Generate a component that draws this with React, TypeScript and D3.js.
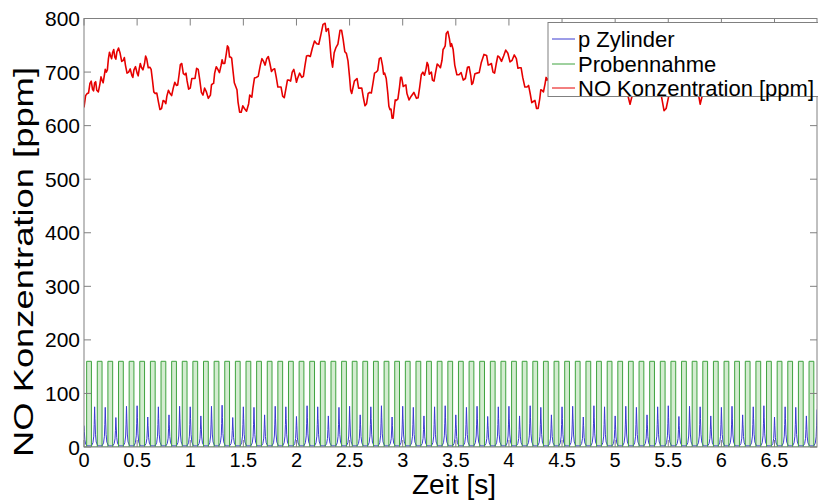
import React from "react";
import * as d3 from "d3";

const W = 818;
const H = 501;

// x ticks (s) and y ticks (ppm)
const X_TICKS = [0, 0.5, 1, 1.5, 2, 2.5, 3, 3.5, 4, 4.5, 5, 5.5, 6, 6.5];
const X_TICK_LABELS = ["0", "0.5", "1", "1.5", "2", "2.5", "3", "3.5", "4", "4.5", "5", "5.5", "6", "6.5"];
const Y_TICKS = [0, 100, 200, 300, 400, 500, 600, 700, 800];
const Y_TICK_LABELS = ["0", "100", "200", "300", "400", "500", "600", "700", "800"];

// engine cycles (s)
const CYCLES = [
  0, 0.1, 0.2, 0.3, 0.4, 0.5, 0.6, 0.7, 0.8, 0.9,
  1.0, 1.1, 1.2, 1.3, 1.4, 1.5, 1.6, 1.7, 1.8, 1.9,
  2.0, 2.1, 2.2, 2.3, 2.4, 2.5, 2.6, 2.7, 2.8, 2.9,
  3.0, 3.1, 3.2, 3.3, 3.4, 3.5, 3.6, 3.7, 3.8, 3.9,
  4.0, 4.1, 4.2, 4.3, 4.4, 4.5, 4.6, 4.7, 4.8, 4.9,
  5.0, 5.1, 5.2, 5.3, 5.4, 5.5, 5.6, 5.7, 5.8, 5.9,
  6.0, 6.1, 6.2, 6.3, 6.4, 6.5, 6.6, 6.7, 6.8, 6.9,
];

// p Zylinder peak per cycle
const P_PEAKS = [
  40, 75, 74, 55, 76, 77, 56, 75, 60, 76,
  75, 58, 76, 78, 55, 75, 74, 60, 76, 75,
  57, 77, 75, 58, 74, 76, 60, 75, 77, 56,
  76, 74, 58, 75, 77, 60, 74, 76, 57, 75,
  76, 58, 77, 74, 60, 75, 76, 56, 77, 75,
  58, 76, 74, 60, 75, 77, 57, 76, 75, 58,
  74, 76, 60, 75, 77, 56, 75, 74, 58, 70,
];
const P_BASE = 2;
// pulse shape: [time offset (s), fraction of peak]
const P_SHAPE: [number, number][] = [
  [-0.03, 0], [-0.016, 0.08], [-0.008, 0.25], [-0.004, 0.55], [0, 1],
  [0.003, 0.7], [0.008, 0.3], [0.015, 0.1], [0.03, 0],
];

// Probennahme (sampling valve) square wave
const VALVE_HIGH = 160;
const VALVE_OPEN = 0.025; // offset within cycle
const VALVE_CLOSE = 0.07;

// NO Konzentration [ppm]: [time s, ppm]
const NO_DATA: [number, number][] = [
  [0.00, 634], [0.015, 656], [0.03, 660], [0.043, 661], [0.056, 679], [0.068, 683], [0.08, 668], [0.09, 665],
  [0.10, 680], [0.11, 682], [0.12, 666], [0.135, 663], [0.15, 678], [0.16, 691], [0.17, 685], [0.18, 680],
  [0.19, 692], [0.20, 705], [0.21, 700], [0.22, 704], [0.23, 725], [0.24, 737], [0.25, 730], [0.26, 725],
  [0.27, 737], [0.28, 742], [0.29, 728], [0.30, 724], [0.31, 738], [0.325, 745], [0.34, 735], [0.355, 720],
  [0.37, 722], [0.38, 727], [0.39, 713], [0.405, 698], [0.42, 700], [0.435, 706], [0.45, 694], [0.46, 690],
  [0.47, 704], [0.485, 710], [0.50, 698], [0.51, 693], [0.52, 706], [0.53, 716], [0.54, 709], [0.555, 704],
  [0.57, 716], [0.58, 730], [0.59, 725], [0.605, 708], [0.62, 709], [0.632, 705], [0.645, 684], [0.657, 663],
  [0.67, 660], [0.685, 661], [0.70, 645], [0.715, 630], [0.73, 632], [0.745, 647], [0.76, 645], [0.77, 641],
  [0.78, 655], [0.795, 666], [0.81, 660], [0.825, 656], [0.84, 670], [0.855, 681], [0.87, 675], [0.882, 676],
  [0.895, 695], [0.907, 714], [0.92, 716], [0.935, 697], [0.95, 695], [0.96, 698], [0.97, 684], [0.985, 668],
  [1.00, 670], [1.015, 688], [1.03, 688], [1.045, 688], [1.06, 707], [1.075, 705], [1.09, 685], [1.105, 662],
  [1.12, 657], [1.135, 670], [1.15, 664], [1.17, 651], [1.19, 657], [1.20, 676], [1.21, 678], [1.22, 679],
  [1.23, 698], [1.245, 710], [1.26, 705], [1.275, 699], [1.29, 712], [1.30, 723], [1.31, 716], [1.325, 716],
  [1.34, 735], [1.35, 749], [1.36, 746], [1.37, 728], [1.38, 728], [1.39, 726], [1.40, 707], [1.415, 680],
  [1.43, 672], [1.44, 667], [1.45, 644], [1.465, 625], [1.48, 625], [1.495, 637], [1.51, 632], [1.53, 627],
  [1.55, 641], [1.56, 657], [1.57, 655], [1.58, 653], [1.59, 670], [1.605, 689], [1.62, 690], [1.64, 692],
  [1.66, 713], [1.675, 725], [1.69, 720], [1.705, 713], [1.72, 725], [1.735, 729], [1.75, 716], [1.765, 701],
  [1.78, 705], [1.795, 706], [1.81, 690], [1.825, 672], [1.84, 672], [1.855, 672], [1.87, 655], [1.885, 652],
  [1.90, 668], [1.915, 685], [1.93, 685], [1.945, 683], [1.96, 700], [1.975, 705], [1.99, 692], [2.00, 681],
  [2.01, 688], [2.03, 698], [2.05, 690], [2.065, 692], [2.08, 712], [2.095, 730], [2.11, 731], [2.13, 729],
  [2.15, 745], [2.17, 758], [2.19, 753], [2.21, 752], [2.23, 770], [2.25, 789], [2.27, 791], [2.28, 776],
  [2.29, 780], [2.30, 781], [2.31, 765], [2.325, 728], [2.34, 709], [2.355, 736], [2.37, 745], [2.39, 752],
  [2.41, 778], [2.425, 778], [2.44, 760], [2.455, 738], [2.47, 735], [2.485, 721], [2.50, 690], [2.51, 666],
  [2.52, 660], [2.545, 683], [2.57, 688], [2.585, 670], [2.60, 670], [2.615, 670], [2.63, 652], [2.645, 637],
  [2.66, 641], [2.675, 660], [2.69, 662], [2.705, 661], [2.72, 679], [2.735, 698], [2.75, 700], [2.765, 703],
  [2.78, 725], [2.795, 727], [2.81, 712], [2.82, 696], [2.83, 698], [2.845, 688], [2.86, 660], [2.87, 636],
  [2.88, 630], [2.89, 631], [2.90, 614], [2.91, 614], [2.92, 632], [2.93, 648], [2.94, 647], [2.955, 650],
  [2.97, 672], [2.98, 690], [2.99, 690], [3.005, 673], [3.02, 675], [3.03, 676], [3.04, 660], [3.06, 648],
  [3.08, 655], [3.105, 662], [3.13, 651], [3.145, 652], [3.16, 672], [3.175, 695], [3.19, 700], [3.205, 694],
  [3.22, 706], [3.23, 718], [3.24, 713], [3.25, 696], [3.26, 698], [3.27, 700], [3.28, 685], [3.295, 683],
  [3.31, 700], [3.325, 715], [3.34, 712], [3.355, 708], [3.37, 722], [3.38, 742], [3.39, 745], [3.40, 749],
  [3.41, 772], [3.425, 776], [3.44, 762], [3.45, 748], [3.46, 753], [3.475, 742], [3.49, 713], [3.51, 695],
  [3.53, 695], [3.55, 699], [3.57, 685], [3.59, 688], [3.61, 709], [3.625, 710], [3.64, 694], [3.65, 677],
  [3.66, 679], [3.68, 697], [3.70, 698], [3.72, 699], [3.74, 718], [3.765, 733], [3.79, 731], [3.805, 713],
  [3.82, 714], [3.835, 716], [3.85, 700], [3.865, 698], [3.88, 715], [3.895, 730], [3.91, 728], [3.93, 720],
  [3.95, 730], [3.97, 741], [3.99, 735], [4.01, 719], [4.03, 722], [4.05, 732], [4.07, 725], [4.085, 707],
  [4.10, 708], [4.115, 708], [4.13, 690], [4.15, 672], [4.17, 672], [4.185, 675], [4.20, 660], [4.215, 643],
  [4.23, 645], [4.245, 647], [4.26, 632], [4.275, 632], [4.29, 650], [4.30, 667], [4.31, 666], [4.325, 663],
  [4.34, 678], [4.35, 690], [4.36, 685], [4.40, 695], [4.45, 710], [4.50, 720], [4.55, 700], [4.60, 712],
  [4.65, 735], [4.70, 722], [4.75, 700], [4.80, 715], [4.85, 730], [4.90, 712], [4.95, 695], [5.00, 688],
  [5.05, 680], [5.10, 672], [5.14, 640], [5.18, 672], [5.22, 690], [5.27, 705], [5.32, 695], [5.37, 685],
  [5.42, 672], [5.46, 628], [5.48, 632], [5.52, 670], [5.57, 690], [5.62, 712], [5.67, 700], [5.72, 688],
  [5.77, 675], [5.80, 640], [5.84, 672], [5.90, 700], [5.95, 715], [6.00, 730], [6.05, 712], [6.10, 698],
  [6.15, 715], [6.20, 738], [6.25, 720], [6.30, 700], [6.35, 690], [6.40, 705], [6.45, 720], [6.50, 712],
  [6.55, 700], [6.60, 690], [6.65, 705], [6.70, 720], [6.75, 705], [6.80, 695], [6.85, 700], [6.90, 710],
];

const LEGEND = ["p Zylinder", "Probennahme", "NO Konzentration [ppm]"];
const COLORS = { p: "#3b3bd0", valve: "#3fa33f", valveFill: "#d3ecd0", no: "#e60000", axis: "#808080" };
const FONT = "'Liberation Sans', Arial, Helvetica, sans-serif";

export default function App() {
  const x = d3.scaleLinear().domain([0, 6.9]).range([84, 817]);
  const y = d3.scaleLinear().domain([0, 800]).range([447, 18.5]);

  // p Zylinder points
  const pPts: [number, number][] = [];
  CYCLES.forEach((c, i) => {
    P_SHAPE.forEach(([dt, f]) => {
      const t = c + dt;
      if (t >= 0 && t <= 6.9) pPts.push([t, P_BASE + f * (P_PEAKS[i] - P_BASE)]);
    });
  });
  const line = d3.line<[number, number]>().x((d) => x(d[0])).y((d) => y(d[1]));

  // valve square wave
  const vPts: [number, number][] = [[0, 0]];
  CYCLES.forEach((c) => {
    const o = c + VALVE_OPEN;
    const cl = Math.min(c + VALVE_CLOSE, 6.9);
    if (o < 6.9) {
      vPts.push([o, 0], [o, VALVE_HIGH], [cl, VALVE_HIGH], [cl, 0]);
    }
  });
  vPts.push([6.9, 0]);

  const legendY = [39, 64, 88];
  const legendColors = [COLORS.p, COLORS.valve, COLORS.no];

  return (
    <svg width={W} height={H} style={{ position: "absolute", left: 0, top: 0, background: "#fff" }} fontFamily={FONT}>
      <rect x={0} y={0} width={W} height={H} fill="#fff" />
      <defs>
        <clipPath id="plot">
          <rect x={84} y={18.5} width={733} height={428.5} />
        </clipPath>
      </defs>
      <g clipPath="url(#plot)">
        {/* valve fill */}
        {CYCLES.map((c, i) => {
          const o = c + VALVE_OPEN;
          const cl = Math.min(c + VALVE_CLOSE, 6.9);
          if (o >= 6.9) return null;
          return (
            <rect key={i} x={x(o)} y={y(VALVE_HIGH)} width={x(cl) - x(o)} height={y(0) - y(VALVE_HIGH)} fill={COLORS.valveFill} />
          );
        })}
        <path d={line(pPts) || ""} fill="none" stroke={COLORS.p} strokeWidth={1} />
        <path d={line(vPts) || ""} fill="none" stroke={COLORS.valve} strokeWidth={1} />
        <path d={line(NO_DATA) || ""} fill="none" stroke={COLORS.no} strokeWidth={1.6} strokeLinejoin="round" />
      </g>

      {/* axes box */}
      <rect x={84} y={18.5} width={733} height={428.5} fill="none" stroke={COLORS.axis} strokeWidth={1} />
      {X_TICKS.map((t, i) => (
        <g key={"xt" + i}>
          <line x1={x(t)} x2={x(t)} y1={y(0)} y2={y(0) - 7} stroke={COLORS.axis} />
          <line x1={x(t)} x2={x(t)} y1={y(800)} y2={y(800) + 7} stroke={COLORS.axis} />
          <text x={x(t)} y={467} fontSize={20} textAnchor="middle" fill="#000">
            {X_TICK_LABELS[i]}
          </text>
        </g>
      ))}
      {Y_TICKS.map((v, i) => (
        <g key={"yt" + i}>
          <line x1={84} x2={91} y1={y(v)} y2={y(v)} stroke={COLORS.axis} />
          <line x1={817} x2={810} y1={y(v)} y2={y(v)} stroke={COLORS.axis} />
          <text x={80} y={y(v) + 7.5} fontSize={21} textAnchor="end" fill="#000">
            {Y_TICK_LABELS[i]}
          </text>
        </g>
      ))}

      {/* axis labels */}
      <text x={454} y={494} fontSize={28} textAnchor="middle" fill="#000">
        Zeit [s]
      </text>
      <text
        transform="translate(33,457) rotate(-90)"
        fontSize={28}
        textAnchor="start"
        textLength={390}
        lengthAdjust="spacingAndGlyphs"
        fill="#000"
      >
        NO Konzentration [ppm]
      </text>

      {/* legend */}
      <rect x={548} y={22.5} width={290} height={74} fill="#fff" stroke={COLORS.axis} strokeWidth={1} />
      {LEGEND.map((name, i) => (
        <g key={"lg" + i}>
          <line x1={552} x2={575} y1={legendY[i]} y2={legendY[i]} stroke={legendColors[i]} strokeWidth={1} />
          <text x={578} y={legendY[i] + 8} fontSize={22} fill="#000">
            {name}
          </text>
        </g>
      ))}
    </svg>
  );
}
